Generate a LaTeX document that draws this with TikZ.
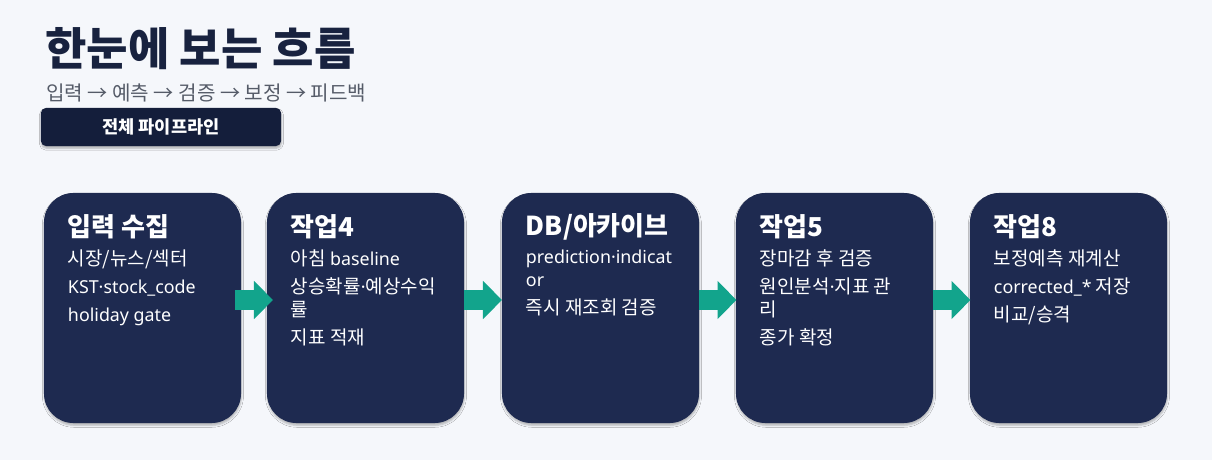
\documentclass[tikz,border=0pt]{standalone}
\usepackage{fontspec}
\setmainfont{Noto Sans CJK KR}
\newfontfamily\latin[Scale=0.94]{Noto Sans}
\usetikzlibrary{calc,arrows.meta,shadows.blur}

\definecolor{pagebg}{HTML}{F5F7FB}
\definecolor{boxnavy}{HTML}{1E2A50}
\definecolor{btnnavy}{HTML}{141E3B}
\definecolor{inkblue}{HTML}{18223F}
\definecolor{subgray}{HTML}{555B68}
\definecolor{flowteal}{HTML}{12A48C}

\tikzset{
  stage/.style={fill=boxnavy, rounded corners=21pt, minimum width=4.925cm, minimum height=5.75cm,
    blur shadow={shadow xshift=0.3pt, shadow yshift=-1.6pt, shadow blur radius=1.4pt, shadow opacity=28}},
  stagehead/.style={anchor=west, inner sep=0pt, text=white, font=\bfseries\fontsize{18.5}{22}\selectfont},
  stagebody/.style={anchor=north west, inner sep=0pt, text=white, align=left, font=\fontsize{13.5}{19.9}\selectfont},
  flow/.style={draw=flowteal, line width=0.5cm, -{Triangle[length=0.475cm, width=0.925cm, fill=flowteal]}},
}

\begin{document}
\begin{tikzpicture}[x=0.025cm, y=-0.025cm]
\fill[pagebg] (0,0) rectangle (1212,460);
\useasboundingbox (0,0) rectangle (1212,460);

% title block
\node[anchor=west, inner sep=0pt, text=inkblue, font=\bfseries\fontsize{32}{38}\selectfont] (title) at (45,49) {한눈에 보는 흐름};
\node[anchor=west, inner sep=0pt, text=subgray, font=\fontsize{14.3}{17}\selectfont] (subtitle) at (46,93) {입력 → 예측 → 검증 → 보정 → 피드백};
\node[fill=btnnavy, rounded corners=3.5pt, minimum width=6cm, minimum height=0.95cm, text=white,
  font=\bfseries\fontsize{12.5}{15}\selectfont,
  blur shadow={shadow xshift=0.3pt, shadow yshift=-1.6pt, shadow blur radius=1.4pt, shadow opacity=30}] (pipe) at (161,127) {전체 파이프라인};

% stages
\node[stage] (b1) at (142.5,308) {};
\node[stage] (b2) at (365.5,308) {};
\node[stage] (b3) at (600.5,308) {};
\node[stage] (b4) at (834.5,308) {};
\node[stage] (b5) at (1068.5,308) {};

\node[stagehead] (h1) at ($(b1.north west)+(24,34)$) {입력 수집};
\node[stagehead] (h2) at ($(b2.north west)+(24,34)$) {작업4};
\node[stagehead] (h3) at ($(b3.north west)+(24,34)$) {DB/아카이브};
\node[stagehead] (h4) at ($(b4.north west)+(24,34)$) {작업5};
\node[stagehead] (h5) at ($(b5.north west)+(24,34)$) {작업8};

\node[stagebody] (t1) at ($(b1.north west)+(24,57)$) {시장/뉴스/섹터\\{\latin KST·stock\_code}\\{\latin holiday gate}};
\node[stagebody] (t2) at ($(b2.north west)+(24,57)$) {아침 {\latin baseline}\\상승확률{\latin ·}예상수익\\[-3.5pt]률\\지표 적재};
\node[stagebody] (t3) at ($(b3.north west)+(24,57)$) {{\latin prediction·indicat}\\[-3.5pt]{\latin or}\\즉시 재조회 검증};
\node[stagebody] (t4) at ($(b4.north west)+(24,57)$) {장마감 후 검증\\원인분석{\latin ·}지표 관\\[-3.5pt]리\\종가 확정};
\node[stagebody] (t5) at ($(b5.north west)+(24,57)$) {보정예측 재계산\\{\latin corrected\_*} 저장\\비교/승격};

% arrows between stages
\foreach \a/\b in {b1/b2,b2/b3,b3/b4,b4/b5}
  \draw[flow] ($(\a.east)!0.5!(\b.west)+(-19,-8)$) -- ($(\a.east)!0.5!(\b.west)+(19,-8)$);
\end{tikzpicture}
\end{document}
